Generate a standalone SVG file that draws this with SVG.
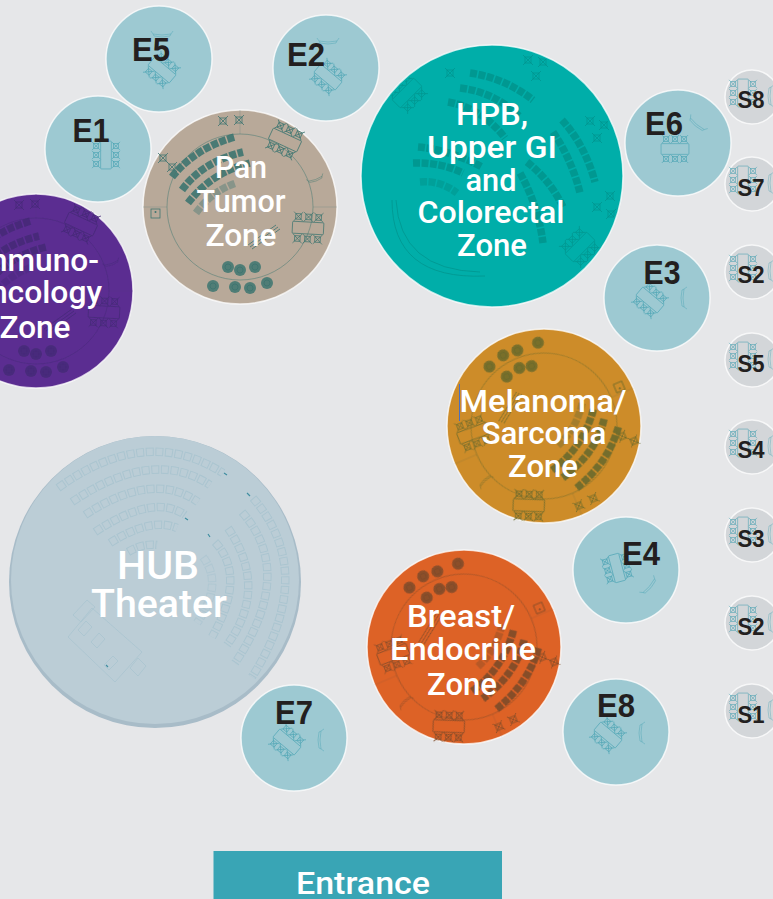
<svg xmlns="http://www.w3.org/2000/svg" xmlns:xlink="http://www.w3.org/1999/xlink" width="773" height="899" viewBox="0 0 773 899">
<style>
.rim{stroke:#fff;stroke-width:1.500;stroke-opacity:.75}
.e{fill:#9dc9d2}
.s{fill:#d3d6d9}
.lb{font-family:Roboto,"Liberation Sans",sans-serif;font-weight:500;fill:#fff;text-anchor:middle}
.z{font-size:31px}
.el{font-family:"Liberation Sans",Arial,sans-serif;font-weight:700;fill:#231f20;text-anchor:middle;font-size:33px}
.sl{font-size:23px}
.d{fill:none;stroke:currentColor;stroke-width:.8}
.seat{fill:none;stroke:currentColor;stroke-width:7.500;stroke-dasharray:7 1.500;opacity:.9}
.eq{color:#2b95a8;opacity:.7}
.bn{opacity:.55}
.hs{fill:none;stroke:#abc5d0;stroke-width:8.500;stroke-dasharray:8 1.600}
.hi{fill:none;stroke:#bbcdd6;stroke-width:6.500;stroke-dasharray:6 3.600;stroke-dashoffset:-1}
.hl{fill:none;stroke:#abc5d0;stroke-width:.9}
</style>
<defs>
<filter id="soft" x="-10%" y="-10%" width="120%" height="120%"><feGaussianBlur stdDeviation="0.45"/></filter>
<clipPath id="hpbclip"><circle cx="492" cy="176" r="129"/></clipPath>
<g id="chair" class="d"><rect x="-3" y="-3" width="6" height="6"/><path d="M-5 -5L-3 -3M5 -5L3 -3M-5 5L-3 3M5 5L3 3M-3 -3L3 3M3 -3L-3 3"/></g>
<g id="etable"><rect class="d" x="-17" y="-6.500" width="34" height="13" rx="1"/><use xlink:href="#chair" href="#chair" x="-11" y="-12"/><use xlink:href="#chair" href="#chair" x="0" y="-12"/><use xlink:href="#chair" href="#chair" x="11" y="-12"/><use xlink:href="#chair" href="#chair" x="-11" y="12"/><use xlink:href="#chair" href="#chair" x="0" y="12"/><use xlink:href="#chair" href="#chair" x="11" y="12"/></g>
<path id="bench" class="d" d="M-11 -2L-9 1Q0 3 9 1L11 -2M-9 1L-8 3Q0 5 8 3L9 1"/>
<g id="stool"><circle r="6" fill="currentColor" opacity=".85"/><circle r="3" fill="none" stroke="currentColor" stroke-width=".8"/></g>
<g id="zone">
<circle class="d" r="73" opacity=".6"/>
<path class="d" d="M0 -97V-73M97 0H73M-97 0H-73" opacity=".25"/>
<path class="seat" d="M-68 -30Q-45 -59 -5 -70"/>
<path class="seat" d="M-58 -17Q-38 -45 3 -55"/>
<path class="seat" d="M-52 -4Q-28 -35 10 -44"/>
<path class="seat" style="opacity:.4" d="M-44 6Q-28 -16 -4 -24"/>
<path class="d" d="M8 38L36 18M12 42L40 22M10 40L38 20"/>
<use xlink:href="#etable" href="#etable" transform="translate(45 -67) rotate(25) scale(.92)"/>
<use xlink:href="#etable" href="#etable" transform="translate(68 21) rotate(3) scale(.92)"/>
<use xlink:href="#stool" href="#stool" x="-12" y="60"/><use xlink:href="#stool" href="#stool" x="0" y="63"/><use xlink:href="#stool" href="#stool" x="15" y="60"/>
<use xlink:href="#stool" href="#stool" x="-27" y="79"/><use xlink:href="#stool" href="#stool" x="-5" y="80"/><use xlink:href="#stool" href="#stool" x="10" y="81"/><use xlink:href="#stool" href="#stool" x="27" y="76"/>
<use xlink:href="#chair" href="#chair" x="-17" y="-86"/><use xlink:href="#chair" href="#chair" x="-1" y="-87"/>
<use xlink:href="#chair" href="#chair" x="-77" y="-49"/><use xlink:href="#chair" href="#chair" x="-68" y="-40"/>
<rect class="d" x="-89" y="2" width="9" height="9"/><circle cx="-84.500" cy="5" r="1" fill="currentColor"/>
<use xlink:href="#bench" href="#bench" transform="translate(75 -29) rotate(-20) scale(.8)" opacity=".6"/>
</g>
</defs>
<rect id="background" width="773" height="899" fill="#e6e7e9"/>

<g id="hub">
<circle cx="155" cy="582" r="146" fill="#a8bcc8"/>
<circle cx="155" cy="580" r="144" fill="#bbcdd6"/>
<g filter="url(#soft)">
<path class="hs" d="M58 488Q146 424 223 473"/><path class="hi" d="M58 488Q146 424 223 473"/>
<path class="hs" d="M72 502Q153 447 210 485"/><path class="hi" d="M72 502Q153 447 210 485"/>
<path class="hs" d="M85 515Q153 470 198 502"/><path class="hi" d="M85 515Q153 470 198 502"/>
<path class="hs" d="M95 532Q154 493 185 515"/><path class="hi" d="M95 532Q154 493 185 515"/>
<path class="hs" d="M110 543Q151 517 177 528"/><path class="hi" d="M110 543Q151 517 177 528"/>
<path class="hs" d="M128 552Q143 543 157 545"/><path class="hi" d="M128 552Q143 543 157 545"/>
<path class="hs" d="M253 498Q318 573 252 677"/><path class="hi" d="M253 498Q318 573 252 677"/>
<path class="hs" d="M242 512Q296 573 235 663"/><path class="hi" d="M242 512Q296 573 235 663"/>
<path class="hs" d="M228 528Q269 588 227 645"/><path class="hi" d="M228 528Q269 588 227 645"/>
<path class="hs" d="M215 542Q247 576 212 637"/><path class="hi" d="M215 542Q247 576 212 637"/>
<path class="hs" d="M203 557Q224 584 197 623" opacity=".7"/><path class="hi" d="M203 557Q224 584 197 623"/>
<path class="hl" d="M68 637L92 608L142 652L115 682ZM73 615L87 600L95 607L81 622ZM130 668L138 676L146 666L138 658ZM78 630L86 621L92 627L84 636ZM91 642L99 633L105 639L97 648ZM104 665L113 656L118 661L109 670Z"/>
<path d="M224 473l3 2M250 496l-3 -3M188 520l-3 -2M210 537l-2 -3M106 665l2 2" stroke="#3f8ea1" stroke-width="1.200"/>
</g>
<text class="lb" x="158" y="579" font-size="38" textLength="82" lengthAdjust="spacingAndGlyphs">HUB</text>
<text class="lb" x="159" y="617" font-size="38" textLength="136" lengthAdjust="spacingAndGlyphs">Theater</text>
</g>

<g id="e5"><circle class="e rim" cx="159" cy="59" r="53"/><g class="eq" filter="url(#soft)"><use xlink:href="#etable" href="#etable" transform="translate(162 70) rotate(40) scale(.82)"/><use class="bn" xlink:href="#bench" href="#bench" transform="translate(162 33)"/></g><text class="el" x="151" y="61" textLength="38" lengthAdjust="spacingAndGlyphs">E5</text></g>
<g id="e2"><circle class="e rim" cx="326" cy="68" r="53"/><g class="eq" filter="url(#soft)"><use xlink:href="#etable" href="#etable" transform="translate(328 77) rotate(40) scale(.82)"/><use class="bn" xlink:href="#bench" href="#bench" transform="translate(328 40)"/></g><text class="el" x="306" y="66" textLength="38" lengthAdjust="spacingAndGlyphs">E2</text></g>
<g id="e1"><circle class="e rim" cx="98" cy="149" r="53"/><g class="eq" filter="url(#soft)"><use xlink:href="#etable" href="#etable" transform="translate(106 155) rotate(90) scale(.82)"/></g><text class="el" x="91" y="142" textLength="37" lengthAdjust="spacingAndGlyphs">E1</text></g>
<g id="e6"><circle class="e rim" cx="678" cy="143" r="53"/><g class="eq" filter="url(#soft)"><use xlink:href="#etable" href="#etable" transform="translate(675 149) scale(.82)"/><use class="bn" xlink:href="#bench" href="#bench" transform="translate(698 123) rotate(40)"/></g><text class="el" x="664" y="135" textLength="38" lengthAdjust="spacingAndGlyphs">E6</text></g>
<g id="e3"><circle class="e rim" cx="657" cy="298" r="53"/><g class="eq" filter="url(#soft)"><use xlink:href="#etable" href="#etable" transform="translate(650 300) rotate(40) scale(.82)"/><use class="bn" xlink:href="#bench" href="#bench" transform="translate(685 298) rotate(90)"/></g><text class="el" x="662" y="284" textLength="37" lengthAdjust="spacingAndGlyphs">E3</text></g>
<g id="e4"><circle class="e rim" cx="626" cy="570" r="53"/><g class="eq" filter="url(#soft)"><use xlink:href="#etable" href="#etable" transform="translate(617 568) rotate(75) scale(.82)"/><use class="bn" xlink:href="#bench" href="#bench" transform="translate(648 585) rotate(-50)"/></g><text class="el" x="641" y="565" textLength="38" lengthAdjust="spacingAndGlyphs">E4</text></g>
<g id="e8"><circle class="e rim" cx="616" cy="732" r="53"/><g class="eq" filter="url(#soft)"><use xlink:href="#etable" href="#etable" transform="translate(608 735) rotate(40) scale(.82)"/><use class="bn" xlink:href="#bench" href="#bench" transform="translate(643 733) rotate(90)"/></g><text class="el" x="616" y="717" textLength="38" lengthAdjust="spacingAndGlyphs">E8</text></g>
<g id="e7"><circle class="e rim" cx="294" cy="738" r="53"/><g class="eq" filter="url(#soft)"><use xlink:href="#etable" href="#etable" transform="translate(287 742) rotate(40) scale(.82)"/><use class="bn" xlink:href="#bench" href="#bench" transform="translate(322 740) rotate(90)"/></g><text class="el" x="294" y="724" textLength="38" lengthAdjust="spacingAndGlyphs">E7</text></g>

<g id="pan-tumor-zone"><circle class="rim" cx="240" cy="207" r="97" fill="#b8a999" stroke-opacity=".3"/><g transform="translate(240 207)" style="color:#3d7570" filter="url(#soft)"><use xlink:href="#zone" href="#zone"/></g>
<text class="lb z" x="241" y="178" textLength="52" lengthAdjust="spacingAndGlyphs">Pan</text>
<text class="lb z" x="241" y="212" textLength="89" lengthAdjust="spacingAndGlyphs">Tumor</text>
<text class="lb z" x="241" y="246" textLength="71" lengthAdjust="spacingAndGlyphs">Zone</text></g>

<g id="immuno-oncology-zone"><circle class="rim" cx="36" cy="291" r="97" fill="#5b2d91" stroke-opacity=".6"/><g transform="translate(36 291)" style="color:#452a78" filter="url(#soft)"><use xlink:href="#zone" href="#zone"/></g>
<text class="lb z" x="35" y="271" textLength="128" lengthAdjust="spacingAndGlyphs">Immuno-</text>
<text class="lb z" x="35" y="303" textLength="134" lengthAdjust="spacingAndGlyphs">Oncology</text>
<text class="lb z" x="35" y="338" textLength="71" lengthAdjust="spacingAndGlyphs">Zone</text></g>

<g id="hpb-zone"><circle class="rim" cx="492" cy="176" r="131" fill="#00aea9"/>
<g clip-path="url(#hpbclip)"><g style="color:#07968f" filter="url(#soft)">
<path class="seat" d="M470 73Q505 78 533 100"/>
<path class="seat" d="M460 88Q495 92 520 117"/>
<path class="seat" d="M448 102Q482 108 505 138"/>
<path class="seat" d="M562 120Q585 145 595 182"/>
<path class="seat" d="M553 132Q572 160 580 193"/>
<path class="seat" d="M527 162Q550 180 563 207"/>
<path class="seat" d="M520 173Q538 205 543 243"/>
<path class="seat" d="M418 147Q450 150 482 167"/>
<path class="seat" d="M413 163Q440 162 463 173"/>
<path class="seat" style="opacity:.6" d="M420 182Q440 180 457 193"/>
<path class="d" d="M392 200Q392 280 485 276M396 200Q400 270 480 272"/>
<use xlink:href="#etable" href="#etable" transform="translate(407 93) rotate(-45) scale(.9)"/>
<use xlink:href="#etable" href="#etable" transform="translate(580 247) rotate(-45) scale(.9)"/>
<use xlink:href="#chair" href="#chair" x="450" y="73"/><use xlink:href="#chair" href="#chair" x="528" y="60"/><use xlink:href="#chair" href="#chair" x="543" y="62"/><use xlink:href="#chair" href="#chair" x="536" y="76"/>
<use xlink:href="#chair" href="#chair" x="590" y="121"/><use xlink:href="#chair" href="#chair" x="604" y="125"/><use xlink:href="#chair" href="#chair" x="597" y="138"/>
<use xlink:href="#chair" href="#chair" x="610" y="196"/><use xlink:href="#chair" href="#chair" x="597" y="207"/><use xlink:href="#chair" href="#chair" x="611" y="214"/>
</g></g>
<text class="lb z" x="492" y="125" textLength="72" lengthAdjust="spacingAndGlyphs">HPB,</text>
<text class="lb z" x="492" y="158" textLength="130" lengthAdjust="spacingAndGlyphs">Upper GI</text>
<text class="lb z" x="491" y="191" textLength="51" lengthAdjust="spacingAndGlyphs">and</text>
<text class="lb z" x="491" y="223" textLength="147" lengthAdjust="spacingAndGlyphs">Colorectal</text>
<text class="lb z" x="492" y="256" textLength="70" lengthAdjust="spacingAndGlyphs">Zone</text></g>

<g id="melanoma-sarcoma-zone"><circle class="rim" cx="544" cy="426" r="97" fill="#cd8c29" stroke-opacity=".3"/><g transform="translate(544 426) rotate(157)" style="color:#6a6a2c" filter="url(#soft)"><use xlink:href="#zone" href="#zone"/></g>
<path d="M459.500 384V421" stroke="#4a6fc0" stroke-width="1"/>
<text class="lb z" x="543" y="412" textLength="167" lengthAdjust="spacingAndGlyphs">Melanoma/</text>
<text class="lb z" x="544" y="444" textLength="125" lengthAdjust="spacingAndGlyphs">Sarcoma</text>
<text class="lb z" x="543" y="477" textLength="70" lengthAdjust="spacingAndGlyphs">Zone</text></g>

<g id="breast-endocrine-zone"><circle class="rim" cx="464" cy="647" r="97" fill="#dd6226"/><g transform="translate(464 647) rotate(157)" style="color:#7d4a2a" filter="url(#soft)"><use xlink:href="#zone" href="#zone"/></g>
<text class="lb z" x="461" y="627" textLength="108" lengthAdjust="spacingAndGlyphs">Breast/</text>
<text class="lb z" x="463" y="660" textLength="146" lengthAdjust="spacingAndGlyphs">Endocrine</text>
<text class="lb z" x="462" y="695" textLength="70" lengthAdjust="spacingAndGlyphs">Zone</text></g>

<g id="s8"><circle class="s rim" cx="752" cy="97" r="27"/><g class="eq" filter="url(#soft)"><use xlink:href="#etable" href="#etable" transform="translate(743 93) rotate(90) scale(.82)"/><use class="bn" xlink:href="#bench" href="#bench" transform="translate(772 96) rotate(90)"/></g><text class="el sl" x="751" y="108" textLength="27" lengthAdjust="spacingAndGlyphs">S8</text></g>
<g id="s7"><circle class="s rim" cx="752" cy="184" r="27"/><g class="eq" filter="url(#soft)"><use xlink:href="#etable" href="#etable" transform="translate(743 180) rotate(90) scale(.82)"/><use class="bn" xlink:href="#bench" href="#bench" transform="translate(772 183) rotate(90)"/></g><text class="el sl" x="751" y="196" textLength="27" lengthAdjust="spacingAndGlyphs">S7</text></g>
<g id="s2-upper"><circle class="s rim" cx="752" cy="272" r="27"/><g class="eq" filter="url(#soft)"><use xlink:href="#etable" href="#etable" transform="translate(743 268) rotate(90) scale(.82)"/><use class="bn" xlink:href="#bench" href="#bench" transform="translate(772 271) rotate(90)"/></g><text class="el sl" x="751" y="283" textLength="27" lengthAdjust="spacingAndGlyphs">S2</text></g>
<g id="s5"><circle class="s rim" cx="752" cy="360" r="27"/><g class="eq" filter="url(#soft)"><use xlink:href="#etable" href="#etable" transform="translate(743 356) rotate(90) scale(.82)"/><use class="bn" xlink:href="#bench" href="#bench" transform="translate(772 359) rotate(90)"/></g><text class="el sl" x="751" y="372" textLength="27" lengthAdjust="spacingAndGlyphs">S5</text></g>
<g id="s4"><circle class="s rim" cx="752" cy="447" r="27"/><g class="eq" filter="url(#soft)"><use xlink:href="#etable" href="#etable" transform="translate(743 443) rotate(90) scale(.82)"/><use class="bn" xlink:href="#bench" href="#bench" transform="translate(772 446) rotate(90)"/></g><text class="el sl" x="751" y="458" textLength="27" lengthAdjust="spacingAndGlyphs">S4</text></g>
<g id="s3"><circle class="s rim" cx="752" cy="535" r="27"/><g class="eq" filter="url(#soft)"><use xlink:href="#etable" href="#etable" transform="translate(743 531) rotate(90) scale(.82)"/><use class="bn" xlink:href="#bench" href="#bench" transform="translate(772 534) rotate(90)"/></g><text class="el sl" x="751" y="547" textLength="27" lengthAdjust="spacingAndGlyphs">S3</text></g>
<g id="s2-lower"><circle class="s rim" cx="752" cy="623" r="27"/><g class="eq" filter="url(#soft)"><use xlink:href="#etable" href="#etable" transform="translate(743 619) rotate(90) scale(.82)"/><use class="bn" xlink:href="#bench" href="#bench" transform="translate(772 622) rotate(90)"/></g><text class="el sl" x="751" y="635" textLength="27" lengthAdjust="spacingAndGlyphs">S2</text></g>
<g id="s1"><circle class="s rim" cx="752" cy="711" r="27"/><g class="eq" filter="url(#soft)"><use xlink:href="#etable" href="#etable" transform="translate(743 707) rotate(90) scale(.82)"/><use class="bn" xlink:href="#bench" href="#bench" transform="translate(772 710) rotate(90)"/></g><text class="el sl" x="751" y="723" textLength="27" lengthAdjust="spacingAndGlyphs">S1</text></g>

<g id="entrance"><rect x="213.500" y="851" width="288.500" height="52" fill="#39a5b5"/><text class="lb" x="363" y="894" font-size="32" textLength="134" lengthAdjust="spacingAndGlyphs">Entrance</text></g>
</svg>
